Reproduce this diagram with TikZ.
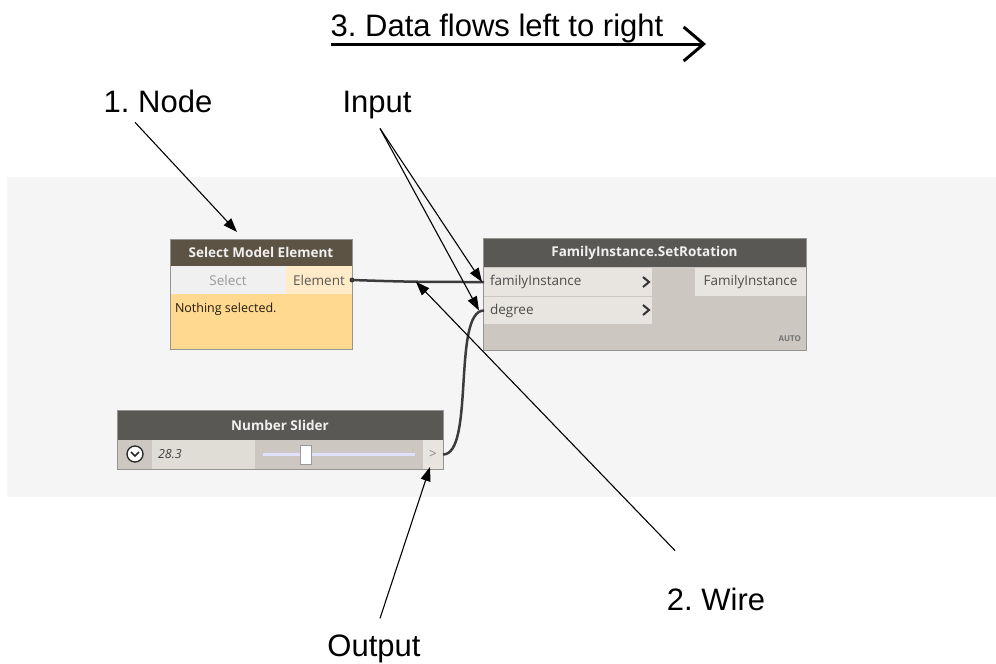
\documentclass[tikz,border=0pt]{standalone}
\usepackage{fontspec}
\setmainfont{Liberation Sans}
\newfontfamily\uifont{Open Sans}
\usetikzlibrary{arrows.meta,positioning}
\frenchspacing
\definecolor{canvas}{RGB}{245,245,245}
\definecolor{brownhdr}{RGB}{93,83,68}
\definecolor{greyhdr}{RGB}{90,88,85}
\definecolor{selcell}{RGB}{240,240,240}
\definecolor{elemcell}{RGB}{255,235,200}
\definecolor{yellowbody}{RGB}{254,217,143}
\definecolor{nodebody}{RGB}{204,199,192}
\definecolor{portcell}{RGB}{232,229,224}
\definecolor{valcell}{RGB}{224,220,214}
\definecolor{frame}{RGB}{150,148,145}
\definecolor{wirecol}{RGB}{60,60,60}
\begin{document}
\begin{tikzpicture}[x=1pt,y=-1pt,
  every node/.style={inner sep=0pt,outer sep=0pt},
  lbl/.style={anchor=base,font=\fontsize{31}{37}\selectfont},
  ann/.style={-{Triangle[length=14pt,width=10pt]},line width=1.1pt},
  hdr/.style={anchor=north west,text=white!94!black,font=\uifont\fontsize{13.5}{15}\selectfont\bfseries},
  cell/.style={anchor=north west,inner xsep=6pt,align=left,font=\uifont\fontsize{13.5}{15}\selectfont},
  wire/.style={draw=wirecol,line width=2.5pt},
  box/.style={draw=frame,line width=0.8pt}]
\useasboundingbox (0,0) rectangle (996,664);
\fill[canvas] (7,177) rectangle (996,497);

% select model element
\node[hdr,fill=brownhdr,minimum width=182,minimum height=27] (smehdr) at (170,239) {Select Model Element};
\node[cell,fill=selcell,text=black!40,minimum width=116,minimum height=28,align=center] (sel) at (170,266) {Select};
\node[cell,fill=elemcell,text=black!65,minimum width=66,minimum height=28,align=center] (elem) at (286,266) {Element};
\node[anchor=north west,fill=yellowbody,minimum width=182,minimum height=55] (smebody) at (170,294) {};
\node[cell,inner xsep=0pt,text=black!80!brown,font=\uifont\fontsize{12.5}{15}\selectfont] (nothing) at (175,303) {Nothing selected.};
\draw[box] (smehdr.north west) rectangle (smebody.south east);

% familyinstance.setrotation
\node[hdr,fill=greyhdr,minimum width=323,minimum height=29] (fishdr) at (483,238) {FamilyInstance.SetRotation};
\node[anchor=north west,fill=nodebody,minimum width=323,minimum height=83] (fisbody) at (483,267) {};
\node[cell,fill=portcell,text=black!70,text width=156,minimum height=28] (fam) at (484,268) {familyInstance};
\node[cell,fill=portcell,text=black!70,text width=156,minimum height=27] (deg) at (484,297) {degree};
\node[cell,fill=portcell,text=black!70,minimum width=111,minimum height=28,align=center] (famout) at (695,268) {FamilyInstance};
\node[anchor=east,text=black!55,font=\uifont\fontsize{8}{9}\selectfont\bfseries] (auto) at (801,339) {AUTO};
\draw[line width=2pt,black!80] (643,277) -- (649,282) -- (643,287);
\draw[line width=2pt,black!80] (643,305) -- (649,310) -- (643,315);
\draw[box] (fishdr.north west) rectangle (fisbody.south east);

% number slider
\node[hdr,fill=greyhdr,minimum width=326,minimum height=30] (nshdr) at (117,410) {Number Slider};
\node[anchor=north west,fill=nodebody,minimum width=326,minimum height=29] (nsrow) at (117,440) {};
\node[cell,fill=valcell,text=black!75,text width=91,minimum height=29,font=\uifont\fontsize{12.5}{14}\selectfont\itshape] (val) at (152,440) {28.3};
\node[cell,fill=portcell,text=black!45,inner xsep=0pt,minimum width=20,minimum height=29,align=center] (nsout) at (423,440) {>};
\draw[white!88!blue,line width=3pt] (263,454) -- (415,454);
\draw[fill=white,draw=black!40,line width=0.8pt] (300,445) rectangle (311,464);
\draw[fill=white,draw=black!85,line width=1.3pt] (135,454) circle (8);
\draw[black!85,line width=1.6pt] (131,452) -- (135,456) -- (139,452);
\draw[box] (nshdr.north west) rectangle (nsrow.south east);

% wires
\draw[wire] (elem.east) .. controls +(60,2) and +(-60,0) .. (fam.west) coordinate[pos=0.48] (wiremid);
\fill[wirecol] (elem.east) circle (2.5);
\draw[wire] (nsout.east) .. controls +(32,0) and +(-32,0) .. (deg.west);

% labels
\node[lbl] (flowlbl) at (497,36) {3. Data flows left to right};
\coordinate (flowend) at (706,44);
\draw[line width=3pt,-{Straight Barb[length=20pt,width=34pt,line width=3pt]}] ([yshift=-8pt]flowlbl.base west) -- (flowend);
\node[lbl] (nodelbl) at (158,112) {1. Node};
\node[lbl] (inlbl) at (377,112) {Input};
\node[lbl] (wirelbl) at (716,610) {2. Wire};
\node[lbl] (outlbl) at (374,656) {Output};
\coordinate (nodetip) at (237,232);
\draw[ann] ([shift={(-23,10)}]nodelbl.south) -- (nodetip);
\draw[ann] ([shift={(3,10)}]inlbl.south) -- ([xshift=-2pt]fam.west);
\draw[ann] ([shift={(3,10)}]inlbl.south) -- ([xshift=-5pt]deg.west);
\draw[ann] ([shift={(-41,-37)}]wirelbl.north) -- (wiremid);
\draw[ann] ([shift={(6,-16)}]outlbl.north) -- ([shift={(-3,-2)}]nsout.south);
\end{tikzpicture}
\end{document}
